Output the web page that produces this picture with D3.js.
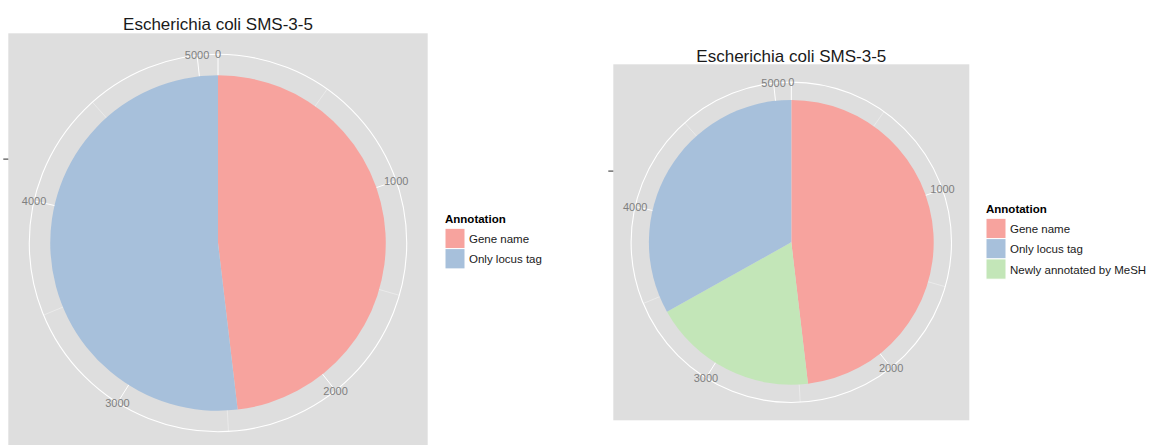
<!DOCTYPE html>
<html>
<head>
<meta charset="utf-8">
<script src="https://cdn.jsdelivr.net/npm/d3@7"></script>
<style>
  html, body { margin: 0; padding: 0; background: #ffffff; }
  svg { display: block; }
  text { font-family: "Liberation Sans", Arial, Helvetica, sans-serif; }
</style>
</head>
<body>
<svg id="chart" width="1151" height="445"></svg>
<script>
// ---------------- data ----------------
const title = "Escherichia coli SMS-3-5";
const legendTitle = "Annotation";
const categories = ["Gene name", "Only locus tag", "Newly annotated by MeSH"];
const colors = ["#F7A39E", "#A7C0DB", "#C3E6B8"];
// left chart: values per category (Gene name, Only locus tag)
const leftCategories = ["Gene name", "Only locus tag"];
const leftValues = [2450, 2640];
// right chart: values per category
const rightCategories = ["Gene name", "Only locus tag", "Newly annotated by MeSH"];
const rightValues = [2450, 1685, 955];
// stacking order around the circle (clockwise from top) for the right chart
const rightStackOrder = ["Gene name", "Newly annotated by MeSH", "Only locus tag"];
const leftStackOrder = ["Gene name", "Only locus tag"];
const majorTicks = [0, 1000, 2000, 3000, 4000, 5000];
const minorTicks = [500, 1500, 2500, 3500, 4500];

// ---------------- drawing ----------------
const svg = d3.select("#chart");
const colorScale = d3.scaleOrdinal().domain(categories).range(colors);

function drawPanel(cfg) {
  const { x0, y0, size, cats, vals, order, titleBaseline, legendX, legendTitleY } = cfg;
  const cx = x0 + size / 2, cy = y0 + size / 2;
  const rPie = 0.4 * size, rOuter = 0.45 * size;
  const total = d3.sum(vals);
  const theta = d3.scaleLinear().domain([0, total]).range([0, 2 * Math.PI]);
  const rScale = d3.scaleLinear().domain([0, 1]).range([0, rPie]);

  const g = svg.append("g");
  // panel background
  g.append("rect").attr("x", x0).attr("y", y0).attr("width", size).attr("height", size)
    .attr("fill", "#DEDEDE");

  // title
  g.append("text").attr("x", cx).attr("y", titleBaseline).attr("text-anchor", "middle")
    .attr("font-size", 17).attr("fill", "#1a1a1a").text(title);

  const c = g.append("g").attr("transform", `translate(${cx},${cy})`);
  // minor theta gridlines
  c.selectAll("line.minor").data(minorTicks.filter(t => t <= total)).join("line")
    .attr("x1", 0).attr("y1", 0)
    .attr("x2", d => rOuter * Math.sin(theta(d)))
    .attr("y2", d => -rOuter * Math.cos(theta(d)))
    .attr("stroke", "#F2F2F2").attr("stroke-width", 0.6);
  // major theta gridlines
  c.selectAll("line.major").data(majorTicks.filter(t => t <= total)).join("line")
    .attr("x1", 0).attr("y1", 0)
    .attr("x2", d => rOuter * Math.sin(theta(d)))
    .attr("y2", d => -rOuter * Math.cos(theta(d)))
    .attr("stroke", "#FFFFFF").attr("stroke-width", 1);
  // outer circle
  c.append("circle").attr("r", rOuter).attr("fill", "none")
    .attr("stroke", "#FFFFFF").attr("stroke-width", 1.1);

  // stacked slices
  const valueOf = name => vals[cats.indexOf(name)];
  let acc = 0;
  const slices = order.map(name => {
    const s = { name, start: acc, end: acc + valueOf(name) };
    acc += valueOf(name);
    return s;
  });
  const arc = d3.arc().innerRadius(rScale(0)).outerRadius(rScale(1));
  c.selectAll("path.slice").data(slices).join("path")
    .attr("d", d => arc({ startAngle: theta(d.start), endAngle: theta(d.end) }))
    .attr("fill", d => colorScale(d.name));

  // theta labels
  c.selectAll("text.tl").data(majorTicks.filter(t => t <= total)).join("text")
    .attr("x", d => rOuter * Math.sin(theta(d)))
    .attr("y", d => -rOuter * Math.cos(theta(d)))
    .attr("text-anchor", "middle").attr("dominant-baseline", "central")
    .attr("font-size", 11).attr("fill", "#7F7F7F")
    .text(d => d3.format("d")(d));

  // r axis tick (discrete r at bar centre)
  const ry = cy - rScale(0.5);
  g.append("line").attr("x1", x0 - 5).attr("x2", x0).attr("y1", ry).attr("y2", ry)
    .attr("stroke", "#4D4D4D").attr("stroke-width", 1.2);

  // legend
  const lg = g.append("g");
  lg.append("text").attr("x", legendX).attr("y", legendTitleY)
    .attr("font-size", 11.5).attr("font-weight", "bold").attr("fill", "#000").text(legendTitle);
  const keyTop = legendTitleY + 5.6, keySize = 20.3;
  lg.selectAll("rect.key").data(cats).join("rect")
    .attr("x", legendX).attr("y", (d, i) => keyTop + i * keySize)
    .attr("width", 20).attr("height", keySize)
    .attr("fill", d => colorScale(d)).attr("stroke", "#FFFFFF").attr("stroke-width", 1);
  lg.selectAll("text.kl").data(cats).join("text")
    .attr("x", legendX + 24).attr("y", (d, i) => keyTop + i * keySize + keySize / 2 + 0.5)
    .attr("dominant-baseline", "central")
    .attr("font-size", 11.5).attr("fill", "#1a1a1a").text(d => d);
}

drawPanel({
  x0: 8.3, y0: 33.3, size: 419.4,
  cats: leftCategories, vals: leftValues, order: leftStackOrder,
  titleBaseline: 29.5, legendX: 445, legendTitleY: 222.7
});
drawPanel({
  x0: 613.3, y0: 64.3, size: 356,
  cats: rightCategories, vals: rightValues, order: rightStackOrder,
  titleBaseline: 61.5, legendX: 986, legendTitleY: 212.7
});
</script>
</body>
</html>
